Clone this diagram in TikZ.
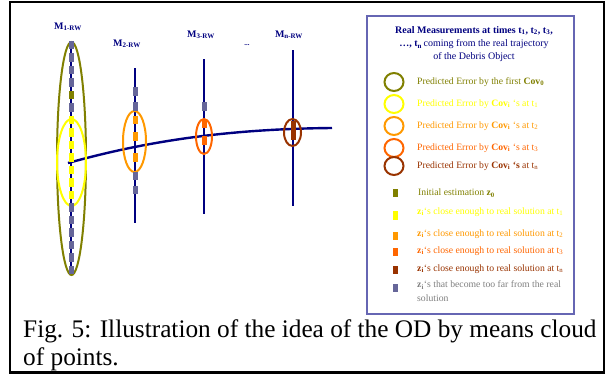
\documentclass[tikz,border=0pt]{standalone}
\usepackage{fontspec}
\setmainfont{Liberation Serif}
\definecolor{navyc}{HTML}{000080}
\definecolor{gbc}{HTML}{666699}
\definecolor{olivec}{HTML}{808000}
\definecolor{yelc}{HTML}{FFFF00}
\definecolor{orac}{HTML}{FF9900}
\definecolor{redc}{HTML}{FF6600}
\definecolor{brnc}{HTML}{993300}
\definecolor{boxc}{HTML}{6666B3}
\definecolor{grayc}{HTML}{808080}
\tikzset{
  colline/.style={navyc, line width=2pt},
  errell/.style={line width=2pt},
  mlabel/.style={navyc, font=\fontsize{10}{12}\selectfont\bfseries, inner sep=0pt},
  legtext/.style={anchor=west, inner sep=0pt, font=\fontsize{9.7}{11}\selectfont},
  legtitle/.style={anchor=base, inner sep=0pt, navyc, font=\fontsize{10}{12}\selectfont},
  captext/.style={anchor=base west, inner sep=0pt, font=\fontsize{25.3}{28}\selectfont},
}
\newcommand{\dsq}[3]{\fill[#3] (#1-2.5,#2-4.2) rectangle (#1+2.5,#2+4.2);}
\begin{document}
\begin{tikzpicture}[x=1pt,y=-1pt]
\useasboundingbox (0,0) rectangle (608,375);
\fill[white] (0,0) rectangle (608,375);
% outer frame
\draw[black, line width=2.5pt] (10,2) rectangle (604,372.5);
% measurement columns
\draw[colline] (71,42) -- (71,275);
\draw[colline] (135,68) -- (135,223);
\draw[colline] (204,59) -- (204,214);
\draw[colline] (293,50) -- (293,206);
% trajectory
\draw[navyc, line width=2.4pt] (68,163) .. controls (140,143) and (220,129) .. (332,128);
% error ellipses
\draw[olivec, errell] (71.5,158.5) ellipse [x radius=14.5, y radius=116.5];
\draw[yelc, errell] (71.5,162.5) ellipse [x radius=14.5, y radius=43.5];
\draw[orac, errell] (134.5,141.5) ellipse [x radius=11.5, y radius=30.5];
\draw[redc, errell] (204,136.5) ellipse [x radius=8, y radius=17.5];
\draw[brnc, errell] (292.5,132.5) ellipse [x radius=8.5, y radius=13.5];
% cloud points, column 1
\foreach \k in {0,1,2,3,5,13,14,15,16,17,18} {\dsq{71}{45+12.5*\k}{gbc}}
\dsq{71}{95}{olivec}
\foreach \k in {6,...,12} {\dsq{71}{45+12.5*\k}{yelc}}
% column 2
\foreach \y in {91.5,106.5,176,190} {\dsq{135}{\y}{gbc}}
\foreach \y in {120,136.5,157.5} {\dsq{135}{\y}{orac}}
% column 3
\dsq{204}{106.5}{gbc}
\foreach \y in {124,140.5} {\dsq{204}{\y}{redc}}
% column n
\fill[brnc] (290.5,121) rectangle (295.5,140);
% column labels
\node[mlabel] (m1) at (68,27) {M\textsubscript{1-RW}};
\node[mlabel] (m2) at (127,44) {M\textsubscript{2-RW}};
\node[mlabel] (m3) at (201,35) {M\textsubscript{3-RW}};
\node[mlabel] (dots) at (247,45) {\fontsize{7}{8}\selectfont ...};
\node[mlabel] (mn) at (289,35) {M\textsubscript{n-RW}};
% legend box
\draw[boxc, line width=1.3pt] (367,16) rectangle (574,314);
\node[legtitle] (t1) at (474,33) {\textbf{Real Measurements at times t\textsubscript{1}, t\textsubscript{2}, t\textsubscript{3},}};
\node[legtitle] (t2) at (474,46.5) {\textbf{\ldots, t\textsubscript{n}}\,coming from the real trajectory};
\node[legtitle] (t3) at (474,59.5) {of the Debris Object};
% legend: ellipses
\draw[olivec, errell] (394,82) ellipse [x radius=9.5, y radius=9];
\node[legtext, olivec] (l1) at (417,82) {Predicted Error by the first \textbf{Cov\textsubscript{0}}};
\draw[yelc, errell] (394,104) ellipse [x radius=9.5, y radius=9];
\node[legtext, yelc] (l2) at (417,104) {Predicted Error by \textbf{Cov\textsubscript{i}} ‘s at t\textsubscript{1}};
\draw[orac, errell] (394,126) ellipse [x radius=9.5, y radius=9];
\node[legtext, orac] (l3) at (417,126) {Predicted Error by \textbf{Cov\textsubscript{i}} ‘s at t\textsubscript{2}};
\draw[redc, errell] (394,148) ellipse [x radius=9.5, y radius=9];
\node[legtext, redc] (l4) at (417,148) {Predicted Error by \textbf{Cov\textsubscript{i}} ‘s at t\textsubscript{3}};
\draw[brnc, errell] (394,166) ellipse [x radius=9.5, y radius=9];
\node[legtext, brnc] (l5) at (417,166) {Predicted Error by \textbf{Cov\textsubscript{i} ‘s} at t\textsubscript{n}};
% legend: points
\dsq{395.5}{193}{olivec}
\node[legtext, olivec] (p1) at (418,193) {Initial estimation \textbf{z\textsubscript{0}}};
\dsq{395.5}{215.5}{yelc}
\node[legtext, yelc] (p2) at (417,212) {\textbf{z\textsubscript{i}}‘s close enough to real solution at t\textsubscript{1}};
\dsq{395.5}{236}{orac}
\node[legtext, orac] (p3) at (417,234) {\textbf{z\textsubscript{i}}‘s close enough to real solution at t\textsubscript{2}};
\dsq{395.5}{252}{redc}
\node[legtext, redc] (p4) at (417,251) {\textbf{z\textsubscript{i}}‘s close enough to real solution at t\textsubscript{3}};
\dsq{395.5}{270}{brnc}
\node[legtext, brnc] (p5) at (417,269) {\textbf{z\textsubscript{i}}‘s close enough to real solution at t\textsubscript{n}};
\dsq{395.5}{288}{gbc}
\node[legtext, grayc] (p6) at (417,285) {\textbf{z\textsubscript{i}}‘s that become too far from the real};
\node[legtext, grayc] (p6b) at (417,298) {solution};
% caption
\node[captext] (cap1) at (23,337) {Fig. 5: Illustration of the idea of the OD by means cloud};
\node[captext] (cap2) at (23,365) {of points.};
\end{tikzpicture}
\end{document}
